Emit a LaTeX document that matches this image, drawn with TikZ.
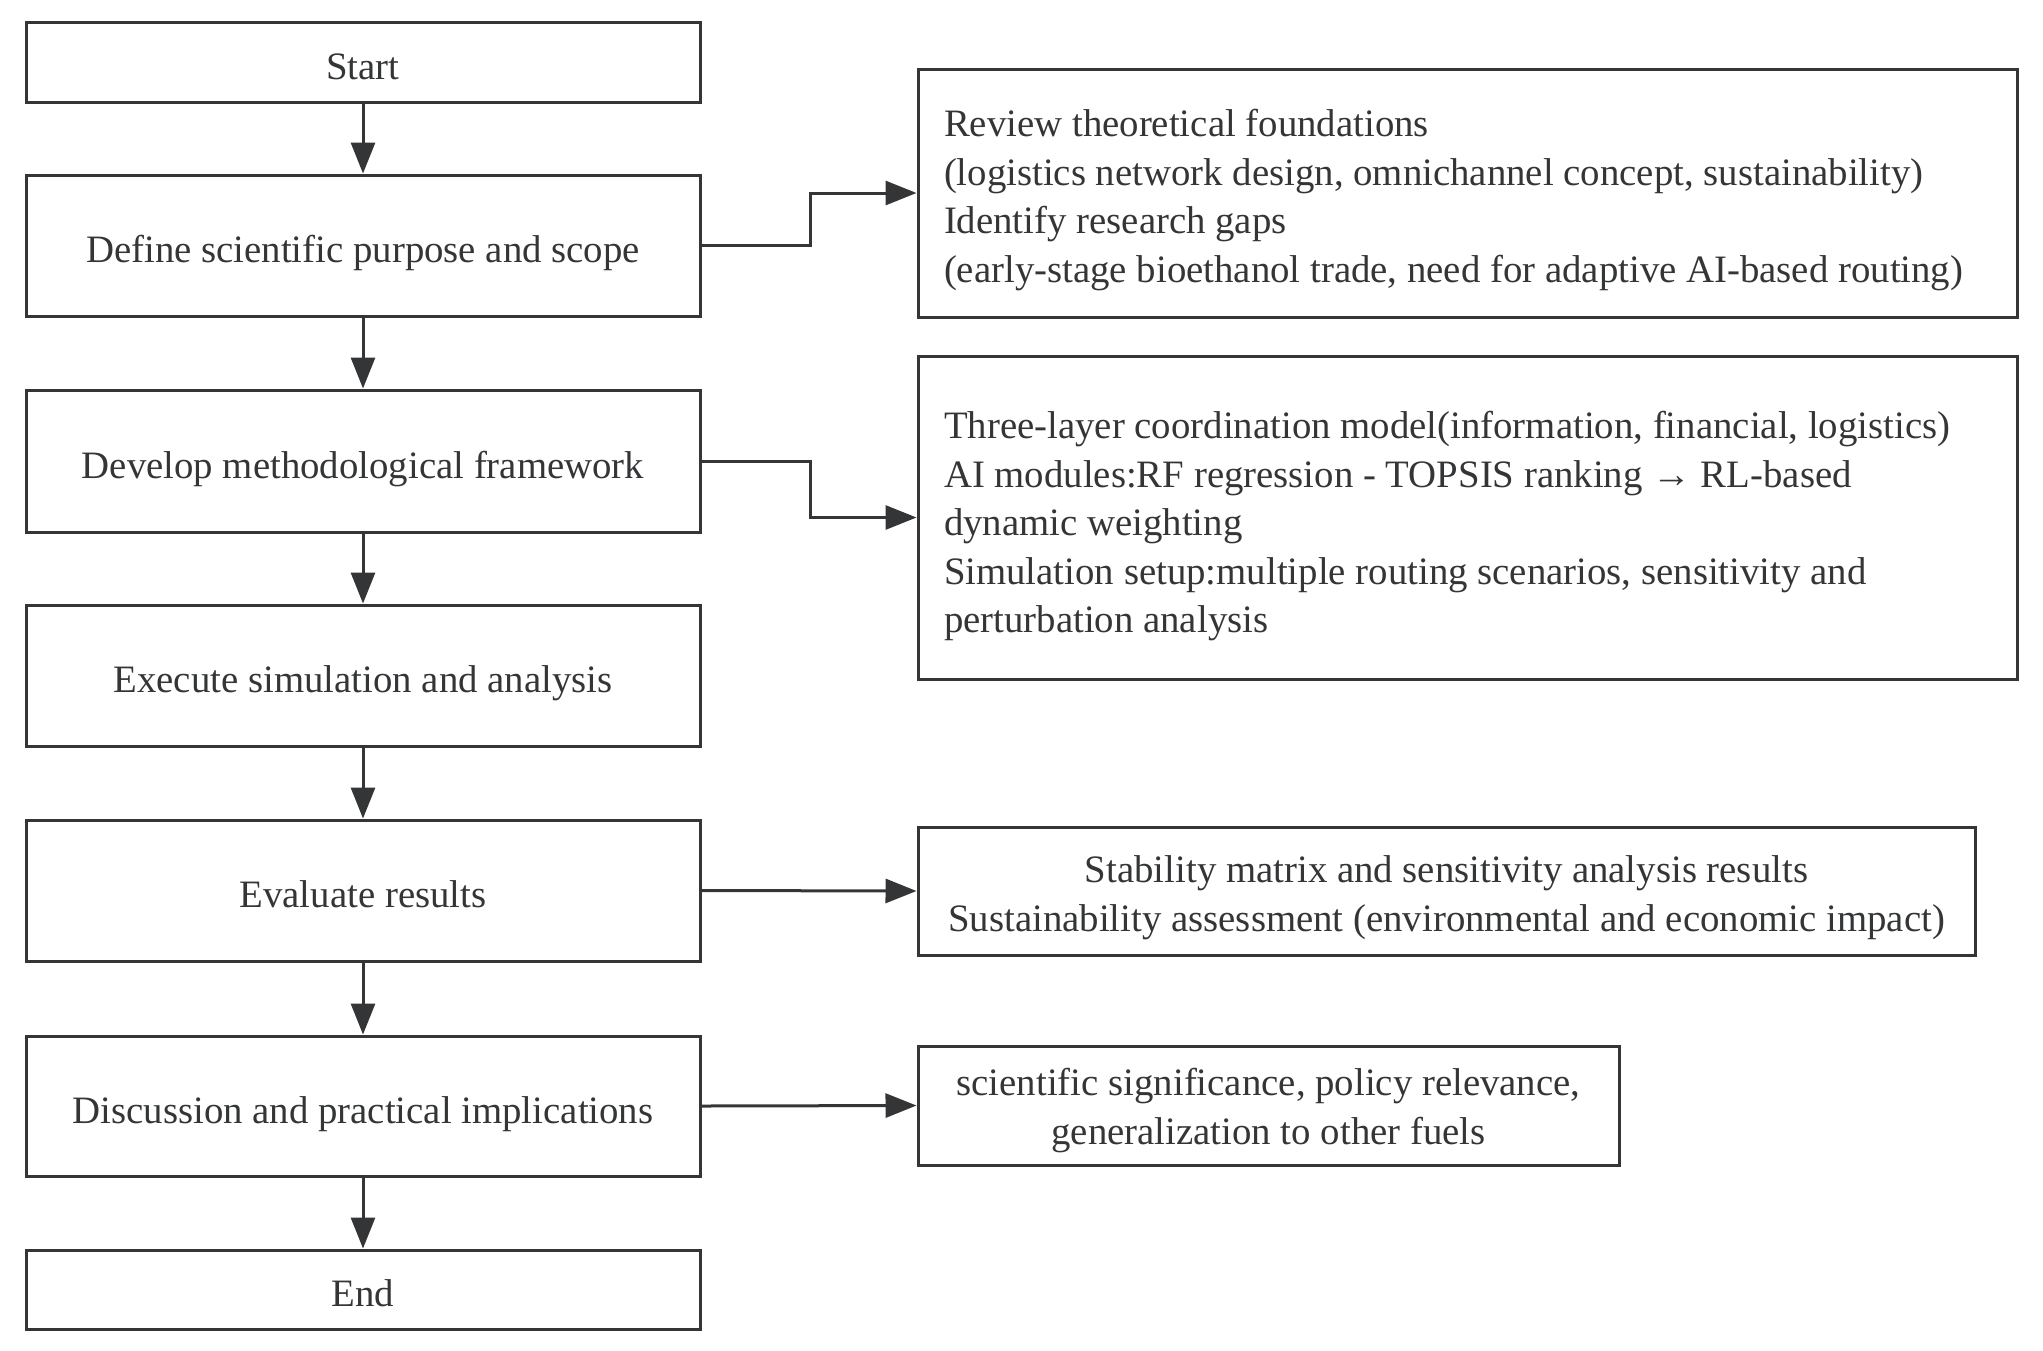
\documentclass[tikz,border=0pt]{standalone}
\usepackage{fontspec}
\setmainfont{Liberation Serif}
\usetikzlibrary{arrows.meta}
\definecolor{ln}{HTML}{333537}
\tikzset{
  x=0.5pt, y=-0.5pt,
  every node/.style={font=\fontsize{19.4pt}{24.2pt}\selectfont, text=ln},
  lbox/.style={draw=ln, line width=1.5pt, minimum width=337pt, inner sep=0pt, align=center,
               text height=17pt, text depth=0pt},
  rbox/.style={draw=ln, line width=1.5pt, inner xsep=13pt, inner ysep=0pt, text depth=0pt},
  conn/.style={draw=ln, line width=1.5pt, -{Triangle[length=15.5pt,width=12pt]}}
}
\begin{document}
\begin{tikzpicture}
\useasboundingbox (0,0) rectangle (2043,1350);
\node[lbox, minimum height=40pt] (start) at (363,62) {Start};
\node[lbox, minimum height=70.5pt] (def) at (363,245.5) {Define scientific purpose and scope};
\node[lbox, minimum height=71pt] (dev) at (363,461) {Develop methodological framework};
\node[lbox, minimum height=70.5pt] (exe) at (363,675.5) {Execute simulation and analysis};
\node[lbox, minimum height=70.5pt] (eva) at (363,890.5) {Evaluate results};
\node[lbox, minimum height=70pt] (dis) at (363,1106) {Discussion and practical implications};
\node[lbox, minimum height=39.5pt] (end) at (363,1289.5) {End};

\node[rbox, minimum width=549.5pt, minimum height=124pt, text height=89pt] (r1) at (1467.5,193)
{\parbox[b]{523.5pt}{\raggedright Review theoretical foundations\\
(logistics network design, omnichannel concept, sustainability)\\
Identify research gaps\\
(early-stage bioethanol trade, need for adaptive AI-based routing)}};
\node[rbox, minimum width=549.5pt, minimum height=161.5pt, text height=115pt] (r2) at (1467.5,517.5)
{\parbox[b]{523.5pt}{\raggedright Three-layer coordination model(information, financial, logistics)\\
AI modules:RF regression - TOPSIS ranking → RL-based\\
dynamic weighting\\
Simulation setup:multiple routing scenarios, sensitivity and\\
perturbation analysis}};
\node[rbox, minimum width=528.5pt, minimum height=64pt, text height=40pt] (r3) at (1446.5,891)
{\parbox[b]{500pt}{\centering Stability matrix and sensitivity analysis results\\
Sustainability assessment (environmental and economic impact)}};
\node[rbox, minimum width=350.5pt, minimum height=59.5pt, text height=38.7pt] (r4) at (1268.5,1105.5)
{\parbox[b]{320pt}{\centering scientific significance, policy relevance,\\
generalization to other fuels}};

\draw[conn] (start) -- (def);
\draw[conn] (def) -- (dev);
\draw[conn] (dev) -- (exe);
\draw[conn] (exe) -- (eva);
\draw[conn] (eva) -- (dis);
\draw[conn] (dis) -- (end);
\draw[conn] (def.east) -- ++(109,0) |- (r1.west);
\draw[conn] (dev.east) -- ++(109,0) |- (r2.west);
\draw[conn] (eva.east) -- (r3.west);
\draw[conn] (dis.east) -- (r4.west);
\end{tikzpicture}
\end{document}
